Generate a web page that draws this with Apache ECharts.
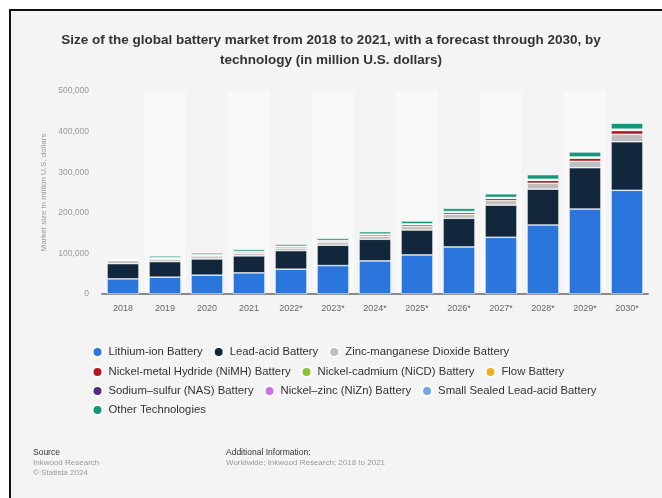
<!DOCTYPE html>
<html>
<head>
<meta charset="utf-8">
<script src="https://cdn.jsdelivr.net/npm/echarts@6/dist/echarts.min.js"></script>
<style>
  html, body { margin: 0; padding: 0; background: #ffffff; }
  #frame {
    position: absolute; left: 9px; top: 9px; width: 653px; height: 489px;
    border-left: 2px solid #111; border-top: 2px solid #111;
    background: #f4f4f4; box-sizing: border-box;
  }
  #chart { position: absolute; left: 0; top: 0; width: 662px; height: 498px; }
</style>
</head>
<body>
<div id="frame"></div>
<div id="chart"></div>
<script>
// Years on the category axis (asterisk marks forecast years)
const years = ['2018', '2019', '2020', '2021', '2022*', '2023*', '2024*', '2025*', '2026*', '2027*', '2028*', '2029*', '2030*'];

// Market size by technology, million U.S. dollars
const lithiumIon     = [37300, 41500, 46400, 52100, 61200, 70000, 81500, 96300, 115900, 139700, 170000, 209200, 255400];
const leadAcid       = [37600, 38300, 40000, 41800, 45700, 50100, 53300, 61400, 70500, 79300, 88400, 101900, 119600];
const zincManganese  = [7500, 5600, 5900, 6400, 6300, 6900, 7500, 8800, 9800, 11100, 14300, 15500, 18200];
const nickelMetal    = [800, 2900, 3100, 3400, 3300, 3600, 3900, 4600, 5200, 5800, 7400, 8000, 9600];
const nickelCadmium  = [210, 300, 300, 330, 330, 360, 390, 480, 510, 570, 750, 840, 950];
const flowBattery    = [170, 250, 250, 280, 280, 300, 330, 400, 420, 480, 620, 700, 800];
const sodiumSulfur   = [120, 170, 170, 190, 190, 200, 220, 270, 290, 320, 430, 480, 550];
const nickelZinc     = [90, 130, 130, 140, 140, 160, 170, 210, 220, 250, 330, 360, 420];
const smallSealed    = [110, 150, 150, 160, 160, 180, 190, 240, 260, 280, 370, 420, 480];
const otherTech      = [0, 4500, 4700, 5100, 5000, 5500, 6000, 7100, 7900, 9000, 11400, 12500, 14700];

// Y-axis ticks
const yTicks = [0, 100000, 200000, 300000, 400000, 500000];

const seriesDefs = [
  { name: 'Lithium-ion Battery', data: lithiumIon, color: '#2a76dc' },
  { name: 'Lead-acid Battery', data: leadAcid, color: '#12263c' },
  { name: 'Zinc-manganese Dioxide Battery', data: zincManganese, color: '#bdbdbd' },
  { name: 'Nickel-metal Hydride (NiMH) Battery', data: nickelMetal, color: '#b3191e' },
  { name: 'Nickel-cadmium (NiCD) Battery', data: nickelCadmium, color: '#8ac13a' },
  { name: 'Flow Battery', data: flowBattery, color: '#f0b121' },
  { name: 'Sodium\u2013sulfur (NAS) Battery', data: sodiumSulfur, color: '#5c2a80' },
  { name: 'Nickel\u2013zinc (NiZn) Battery', data: nickelZinc, color: '#c873de' },
  { name: 'Small Sealed Lead-acid Battery', data: smallSealed, color: '#73a6e6' },
  { name: 'Other Technologies', data: otherTech, color: '#14967a' }
];

const FONT = 'Arial, "Liberation Sans", Helvetica, sans-serif';

function legendRow(names, top) {
  return {
    data: names,
    left: 91.5,
    top: top,
    orient: 'horizontal',
    padding: 0,
    icon: 'circle',
    itemWidth: 12,
    itemHeight: 10,
    itemGap: 10,
    selectedMode: false,
    textStyle: { fontSize: 11.3, color: '#333', fontFamily: FONT }
  };
}

const chart = echarts.init(document.getElementById('chart'), null, { renderer: 'canvas' });

chart.setOption({
  animation: false,
  backgroundColor: 'transparent',
  color: seriesDefs.map(s => s.color),
  title: {
    text: 'Size of the global battery market from 2018 to 2021, with a forecast through 2030, by\ntechnology (in million U.S. dollars)',
    left: 'center',
    top: 25,
    textStyle: { fontSize: 13.5, fontWeight: 'bold', color: '#333', fontFamily: FONT, lineHeight: 20 }
  },
  legend: [
    legendRow([seriesDefs[0].name, seriesDefs[1].name, seriesDefs[2].name], 346),
    legendRow([seriesDefs[3].name, seriesDefs[4].name, seriesDefs[5].name], 366),
    legendRow([seriesDefs[6].name, seriesDefs[7].name, seriesDefs[8].name], 385),
    legendRow([seriesDefs[9].name], 404)
  ],
  grid: { left: 102, right: 14, top: 91, height: 203 },
  xAxis: {
    type: 'category',
    data: years,
    axisTick: { show: false },
    axisLine: { show: true, lineStyle: { color: '#8a8a8a', width: 2 } },
    axisLabel: { color: '#666', fontSize: 9, margin: 10, fontFamily: FONT },
    splitArea: { show: true, areaStyle: { color: ['#f4f4f4', '#f8f8f8'] } }
  },
  yAxis: {
    type: 'value',
    min: yTicks[0],
    max: yTicks[yTicks.length - 1],
    interval: yTicks[1] - yTicks[0],
    name: 'Market size in million U.S. dollars',
    nameLocation: 'middle',
    nameGap: 50,
    nameTextStyle: { color: '#999', fontSize: 8, fontFamily: FONT },
    axisLine: { show: false },
    axisTick: { show: false },
    axisLabel: {
      color: '#999', fontSize: 8.5, margin: 13, fontFamily: FONT,
      formatter: v => v.toLocaleString('en-US')
    },
    splitLine: { show: true, lineStyle: { color: '#cfcfcf', type: [2, 2], width: 1 } }
  },
  series: seriesDefs.map(s => ({
    name: s.name,
    type: 'bar',
    stack: 'total',
    data: s.data,
    barCategoryGap: '24%',
    itemStyle: { color: s.color, borderColor: '#ffffff', borderWidth: 0.6 }
  })),
  graphic: [
    { type: 'text', left: 33, top: 448, style: { text: 'Source', fill: '#333', font: '8.5px ' + FONT } },
    { type: 'text', left: 33, top: 459, style: { text: 'Inkwood Research', fill: '#999', font: '8px ' + FONT } },
    { type: 'text', left: 33, top: 469, style: { text: '\u00a9 Statista 2024', fill: '#999', font: '8px ' + FONT } },
    { type: 'text', left: 226, top: 448, style: { text: 'Additional Information:', fill: '#333', font: '8.5px ' + FONT } },
    { type: 'text', left: 226, top: 459, style: { text: 'Worldwide; Inkwood Research; 2018 to 2021', fill: '#999', font: '8px ' + FONT } }
  ]
});
</script>
</body>
</html>
